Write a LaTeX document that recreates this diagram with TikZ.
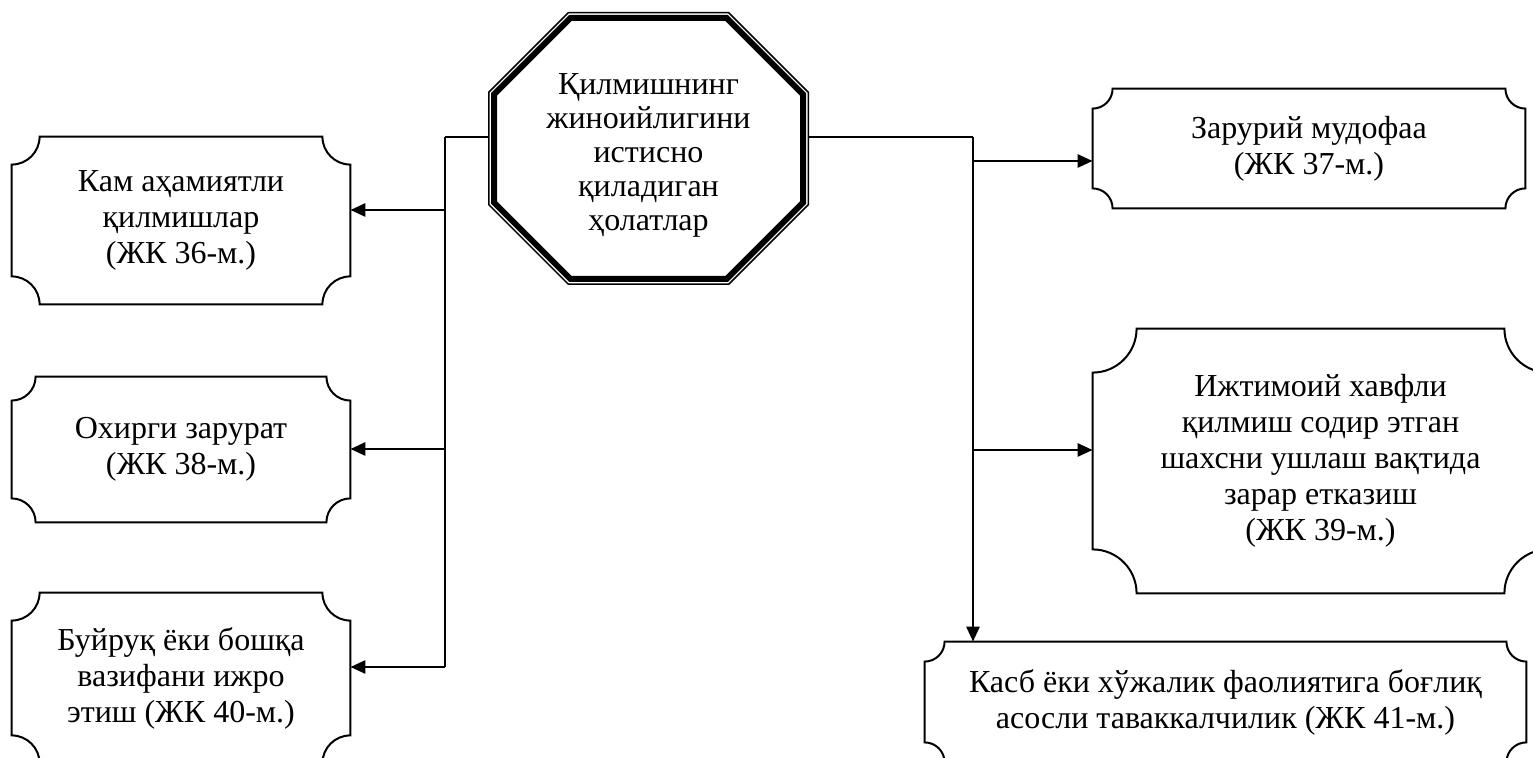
\documentclass[tikz,border=0pt]{standalone}
\usepackage{fontspec}
\setmainfont{Liberation Serif}
\usetikzlibrary{arrows.meta,calc}
\newcommand\plaque[2]{%
 \draw[boxline] ([yshift=-#2]#1.north west)
  .. controls ([xshift=0.5523*#2,yshift=-#2]#1.north west) and ([xshift=#2,yshift=-0.5523*#2]#1.north west) .. ([xshift=#2]#1.north west)
  -- ([xshift=-#2]#1.north east)
  .. controls ([xshift=-#2,yshift=-0.5523*#2]#1.north east) and ([xshift=-0.5523*#2,yshift=-#2]#1.north east) .. ([yshift=-#2]#1.north east)
  -- ([yshift=#2]#1.south east)
  .. controls ([xshift=-0.5523*#2,yshift=#2]#1.south east) and ([xshift=-#2,yshift=0.5523*#2]#1.south east) .. ([xshift=-#2]#1.south east)
  -- ([xshift=#2]#1.south west)
  .. controls ([xshift=#2,yshift=0.5523*#2]#1.south west) and ([xshift=0.5523*#2,yshift=#2]#1.south west) .. ([yshift=#2]#1.south west)
  -- cycle;}
\newcommand\octo[2]{%
 \draw[#2] ({488+#1},{92+0.4142*#1}) -- ({568+0.4142*#1},{12+#1}) -- ({729-0.4142*#1},{12+#1})
  -- ({809-#1},{92+0.4142*#1}) -- ({809-#1},{205-0.4142*#1}) -- ({729-0.4142*#1},{285-#1})
  -- ({568+0.4142*#1},{285-#1}) -- ({488+#1},{205-0.4142*#1}) -- cycle;}
\tikzset{
 txt/.style={font=\fontsize{16pt}{18pt}\selectfont, align=center, inner sep=0pt},
 octtext/.style={font=\fontsize{16pt}{17pt}\selectfont, align=center, inner sep=0pt},
 boxnode/.style={txt, draw=none},
 boxline/.style={line width=1pt, line join=miter},
 trunk/.style={line width=1pt},
 link/.style={line width=0.8pt},
 arr/.style={line width=1.4pt, -{Triangle[length=7.5pt,width=6.5pt]}},
}
\begin{document}
\begin{tikzpicture}[x=0.5pt,y=-0.5pt]
\clip (0,0) rectangle (1533,758);
\fill[white] (0,0) rectangle (1533,758);
% octagon
\node[txt, minimum width=160.5pt, minimum height=136.5pt] (oct) at (648.5,148.5) {};
\node[octtext] (octtxt) at (648.5,155) {Қилмишнинг\\жиноийлигини\\истисно\\қиладиган\\ҳолатлар};
\octo{0.75}{line width=0.75pt, line join=miter}
\octo{6}{line width=3pt, line join=miter}
% left boxes
\node[boxnode, minimum width=169pt, minimum height=83.5pt] (b36) at (181,220.5) {Кам аҳамиятли\\қилмишлар\\(ЖК 36-м.)};
\plaque{b36}{14pt}
\node[boxnode, minimum width=169pt, minimum height=72.5pt] (b38) at (181,449.5) {Охирги зарурат\\(ЖК 38-м.)};
\plaque{b38}{12pt}
\node[boxnode, minimum width=169pt, minimum height=85pt] (b40) at (181,678) {Буйруқ ёки бошқа\\вазифани ижро\\этиш (ЖК 40-м.)};
\plaque{b40}{14pt}
% right boxes
\node[boxnode, minimum width=216pt, minimum height=59.5pt] (b37) at (1309,148.5) {Зарурий мудофаа\\(ЖК 37-м.)};
\plaque{b37}{10pt}
\node[boxnode, minimum width=227.5pt, minimum height=132pt] (b39) at (1320.5,461) {Ижтимоий хавфли\\қилмиш содир этган\\шахсни ушлаш вақтида\\зарар етказиш\\(ЖК 39-м.)};
\plaque{b39}{22pt}
\node[boxnode, minimum width=300.5pt, minimum height=60pt] (b41) at (1225.5,702) {Касб ёки хўжалик фаолиятига боғлиқ\\асосли таваккалчилик (ЖК 41-м.)};
\plaque{b41}{10pt}
% connectors left
\coordinate (lt) at (445,137);
\coordinate (l1) at (445,210);
\coordinate (l2) at (445,449);
\coordinate (l3) at (445,667);
\draw[link] (oct.west |- lt) -- (lt);
\draw[trunk] (lt) -- (l3);
\draw[arr] (l1) -- (l1 -| b36.east);
\draw[arr] (l2) -- (l2 -| b38.east);
\draw[arr] (l3) -- (l3 -| b40.east);
% connectors right
\coordinate (rt) at (973,137);
\coordinate (r1) at (973,161);
\coordinate (r2) at (973,450);
\draw[link] (oct.east |- rt) -- (rt);
\draw[trunk] (rt) -- (r2);
\draw[arr] (r2) -- (rt |- b41.north);
\draw[arr] (r1) -- (r1 -| b37.west);
\draw[arr] (r2) -- (r2 -| b39.west);
\end{tikzpicture}
\end{document}
